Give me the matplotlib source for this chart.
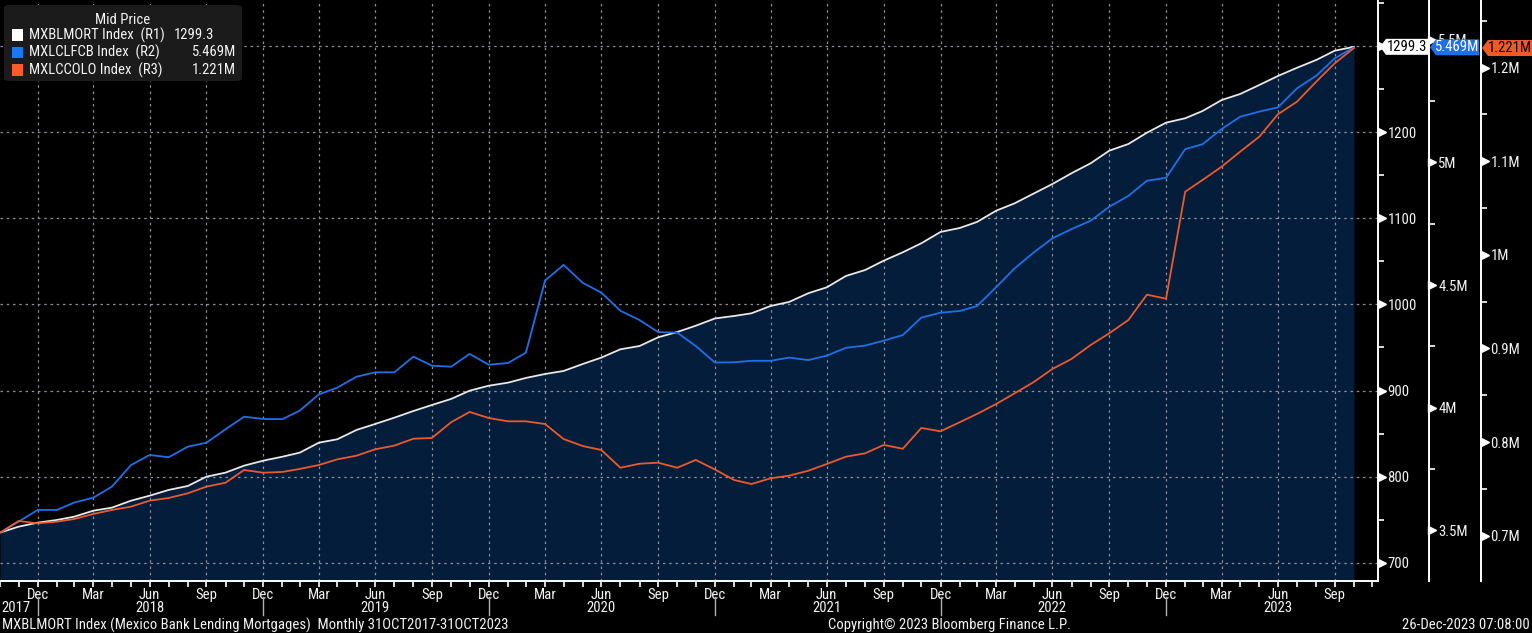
import matplotlib
matplotlib.use("Agg")
import matplotlib.pyplot as plt
import matplotlib.dates as mdates
import numpy as np
import pandas as pd
from matplotlib.patches import Polygon, FancyBboxPatch, Rectangle
from matplotlib.ticker import FixedLocator, FuncFormatter
from matplotlib.font_manager import findfont, FontProperties

W, H = 1532, 633
BG = "#000000"
FILL = "#031d3b"
C_WHITE = "#e8e8e8"
C_BLUE = "#1f70e6"
C_ORANGE = "#ec5a2b"
TXT = "#f2f2f2"
FS = 10.6

# pick a narrow font if there is one
FONT = "DejaVu Sans"
for cand in ["Liberation Sans Narrow", "Roboto Condensed", "Open Sans Condensed"]:
    try:
        findfont(FontProperties(family=cand), fallback_to_default=False)
        FONT = cand
        break
    except Exception:
        pass
plt.rcParams["font.family"] = [FONT, "DejaVu Sans"]

# ---- data (month-end, Oct 2017 .. Oct 2023) ----
dates = pd.date_range("2017-10-31", periods=73, freq="ME")

mxblmort = [
    734.9, 741.8, 746.5, 749.6, 753.4, 760.4, 763.9, 772.0, 777.8, 784.5,
    789.1, 799.9, 804.6, 812.7, 818.5, 823.1, 827.8, 839.4, 843.4, 854.2,
    861.1, 868.4, 876.2, 883.2, 890.2, 899.8, 905.6, 909.1, 914.6, 919.2,
    922.7, 930.8, 938.2, 947.9, 951.7, 961.8, 968.0, 975.3, 983.7, 986.6,
    989.7, 998.2, 1002.9, 1013.0, 1019.9, 1033.1, 1040.0, 1050.8, 1060.6, 1071.1,
    1084.2, 1088.8, 1095.8, 1108.9, 1117.5, 1128.9, 1139.9, 1152.4, 1164.0, 1178.6,
    1186.4, 1199.5, 1211.2, 1216.3, 1224.7, 1237.5, 1244.5, 1255.0, 1265.4, 1275.0,
    1284.0, 1294.8, 1299.3,
]

mxlclfcb = [  # millions
    3.490, 3.535, 3.583, 3.583, 3.613, 3.633, 3.678, 3.766, 3.807, 3.798,
    3.841, 3.857, 3.912, 3.963, 3.954, 3.953, 3.988, 4.054, 4.082, 4.126,
    4.144, 4.144, 4.208, 4.171, 4.167, 4.219, 4.175, 4.182, 4.224, 4.518,
    4.582, 4.509, 4.469, 4.395, 4.357, 4.308, 4.306, 4.251, 4.184, 4.185,
    4.191, 4.191, 4.204, 4.194, 4.212, 4.244, 4.253, 4.273, 4.296, 4.367,
    4.387, 4.394, 4.414, 4.491, 4.568, 4.633, 4.690, 4.728, 4.762, 4.819,
    4.863, 4.925, 4.937, 5.054, 5.074, 5.136, 5.186, 5.207, 5.224, 5.302,
    5.353, 5.424, 5.469,
]

mxlccolo = [  # millions
    0.7032, 0.7157, 0.7132, 0.7150, 0.7178, 0.7232, 0.7275, 0.7310, 0.7374, 0.7403,
    0.7453, 0.7524, 0.7566, 0.7702, 0.7673, 0.7681, 0.7713, 0.7755, 0.7816, 0.7855,
    0.7923, 0.7962, 0.8036, 0.8044, 0.8212, 0.8322, 0.8257, 0.8222, 0.8222, 0.8193,
    0.8033, 0.7958, 0.7916, 0.7726, 0.7769, 0.7780, 0.7726, 0.7809, 0.7707, 0.7595,
    0.7552, 0.7613, 0.7641, 0.7694, 0.7766, 0.7844, 0.7880, 0.7969, 0.7929, 0.8151,
    0.8115, 0.8212, 0.8300, 0.8407, 0.8521, 0.8642, 0.8781, 0.8888, 0.9037, 0.9162,
    0.9304, 0.9575, 0.9532, 1.0675, 1.0800, 1.0942, 1.1103, 1.1263, 1.1502, 1.1637,
    1.1850, 1.2047, 1.221,
]

r1_ticks = [700, 800, 900, 1000, 1100, 1200, 1300]
r2_ticks = [3.5, 4.0, 4.5, 5.0, 5.5]
r3_ticks = [0.7, 0.8, 0.9, 1.0, 1.1, 1.2]

names = ["MXBLMORT Index  (R1)", "MXLCLFCB Index  (R2)", "MXLCCOLO Index  (R3)"]
last_labels = ["1299.3", "5.469M", "1.221M"]

# ---- figure ----
fig = plt.figure(figsize=(W / 100, H / 100), dpi=100, facecolor=BG)
AX_W, AX_B = 1378, 581
ax = fig.add_axes([0, (H - AX_B) / H, AX_W / W, AX_B / H])
ax.set_facecolor(BG)
ax2 = ax.twinx()
ax3 = ax.twinx()

x0 = mdates.date2num(pd.Timestamp("2017-10-31"))
x1 = x0 + 2230
ax.set_xlim(x0, x1)
ax.set_ylim(678.7, 1353.7)
ax2.set_ylim(3.2933, 5.6619)
ax3.set_ylim(0.6516, 1.2723)

ax.fill_between(dates, mxblmort, 678.7, color=FILL, lw=0, zorder=1)
ax.plot(dates, mxblmort, color=C_WHITE, lw=1.3, zorder=3)
ax2.plot(dates, mxlclfcb, color=C_BLUE, lw=1.3)
ax3.plot(dates, mxlccolo, color=C_ORANGE, lw=1.3)

# spines
for a in (ax, ax2, ax3):
    for s in ("left", "top"):
        a.spines[s].set_visible(False)
    a.spines["right"].set_color("white")
    a.spines["right"].set_linewidth(1.4)
for a in (ax2, ax3):
    a.spines["bottom"].set_visible(False)
ax.spines["bottom"].set_color("white")
ax.spines["bottom"].set_linewidth(1.4)
off2 = 1 + 51 / AX_W
off3 = 1 + 103 / AX_W
ax2.spines["right"].set_position(("axes", off2))
ax3.spines["right"].set_position(("axes", off3))


def r1_fmt(v, p):
    # the 1300 label sits under the last-value tag in the original
    return "" if v >= 1300 else f"{v:.0f}"


# y axes (all on the right)
ax.yaxis.tick_right()
lab_kw = dict(colors=TXT, labelsize=FS, length=0, pad=6.8)
for a, ticks, minor, xoff, fmt in [
    (ax, r1_ticks, np.arange(750, 1400, 100), 1.0, r1_fmt),
    (ax2, r2_ticks, np.arange(3.75, 5.7, 0.5), off2, lambda v, p: f"{v:g}M"),
    (ax3, r3_ticks, np.arange(0.75, 1.27, 0.1), off3, lambda v, p: f"{v:g}M"),
]:
    a.yaxis.set_major_locator(FixedLocator(ticks))
    a.yaxis.set_minor_locator(FixedLocator(minor))
    a.yaxis.set_major_formatter(FuncFormatter(fmt))
    a.tick_params(axis="y", which="major", **lab_kw)
    a.tick_params(axis="y", which="minor", colors="white", length=4, width=1.2, direction="out")
    a.plot([xoff + 3.5 / AX_W] * len(ticks), ticks, ls="none", marker=">", ms=5.5,
           color="white", transform=a.get_yaxis_transform(), clip_on=False)

# x axis: month-end ticks, quarters labelled
all_me = pd.date_range("2017-10-31", "2023-11-30", freq="ME")
quarters = [d for d in all_me if d.month in (3, 6, 9, 12)]
ax.xaxis.set_major_locator(FixedLocator(mdates.date2num(quarters)))
ax.xaxis.set_minor_locator(FixedLocator(mdates.date2num(all_me)))
ax.xaxis.set_major_formatter(mdates.DateFormatter("%b"))
ax.tick_params(axis="x", which="major", colors="white", labelcolor=TXT, labelsize=FS,
               length=4, width=1.2, pad=1)
ax.tick_params(axis="x", which="minor", colors="white", length=4, width=1.2)

ax.grid(True, which="major", color="#8a8f98", lw=0.9, ls=(0, (2, 3)))

# year row
ytrans = ax.get_xaxis_transform()
ax.text(x0 + 2, -0.046, "2017", transform=ytrans, ha="left", va="center",
        color=TXT, fontsize=FS)
for yr in range(2018, 2024):
    ax.text(pd.Timestamp(f"{yr}-06-30"), -0.046, str(yr), transform=ytrans,
            ha="center", va="center", color=TXT, fontsize=FS)
for yr in range(2017, 2023):
    d = mdates.date2num(pd.Timestamp(f"{yr}-12-31"))
    ax.plot([d, d], [-0.028, -0.058], transform=ytrans, color="#b0b0b0",
            lw=1, clip_on=False)

# footer
fig.text(2 / W, 1 - 625 / H, "MXBLMORT Index (Mexico Bank Lending Mortgages)  Monthly 31OCT2017-31OCT2023",
         ha="left", va="center", color=TXT, fontsize=FS)
fig.text(949 / W, 1 - 625 / H, "Copyright\u00a9 2023 Bloomberg Finance L.P.",
         ha="center", va="center", color=TXT, fontsize=FS)
fig.text(1530 / W, 1 - 625 / H, "26-Dec-2023 07:08:00",
         ha="right", va="center", color=TXT, fontsize=FS)

# last-value tags
fig.canvas.draw()
xe = mdates.date2num(dates[-1])
tag_specs = [
    (ax, mxblmort[-1], last_labels[0], 1380, 1428, "white", "black"),
    (ax2, mxlclfcb[-1], last_labels[1], 1430, 1479, C_BLUE, "white"),
    (ax3, mxlccolo[-1], last_labels[2], 1482, 1532, "#f05a2a", "black"),
]
for a, val, lab, xa, xb, fc, tc in tag_specs:
    yp = a.transData.transform((xe, val))[1]
    pts = [(xa, yp), (xa + 6, yp + 8), (xb, yp + 8), (xb, yp - 8), (xa + 6, yp - 8)]
    pts = [(px / W, py / H) for px, py in pts]
    fig.add_artist(Polygon(pts, closed=True, fc=fc, ec="none", transform=fig.transFigure, zorder=10))
    fig.text((xa + 6 + xb) / 2 / W, yp / H, lab, ha="center", va="center",
             color=tc, fontsize=FS, zorder=11)

# legend box
fig.add_artist(FancyBboxPatch((4 / W, 1 - 81 / H), 238 / W, 76 / H,
                              boxstyle="round,pad=0,rounding_size=0.004",
                              fc="#1b1b1b", ec="none", transform=fig.transFigure, zorder=12))
fig.text(123 / W, 1 - 20 / H, "Mid Price", ha="center", va="center", color=TXT,
         fontsize=FS, zorder=13)
sw_colors = ["white", "#1877f2", "#ff5a2a"]
rows_y = [35, 52.5, 70]
for name, lab, col, ry in zip(names, last_labels, sw_colors, rows_y):
    fig.add_artist(Rectangle((12 / W, 1 - (ry + 5.5) / H), 11 / W, 11 / H, fc=col, ec="none",
                             transform=fig.transFigure, zorder=13))
    fig.text(29 / W, 1 - ry / H, name, ha="left", va="center", color=TXT, fontsize=FS, zorder=13)
    if lab == last_labels[0]:
        fig.text(174 / W, 1 - ry / H, lab, ha="left", va="center", color=TXT, fontsize=FS, zorder=13)
    else:
        fig.text(236 / W, 1 - ry / H, lab, ha="right", va="center", color=TXT, fontsize=FS, zorder=13)

fig.savefig("out.png", dpi=100, facecolor=BG)
